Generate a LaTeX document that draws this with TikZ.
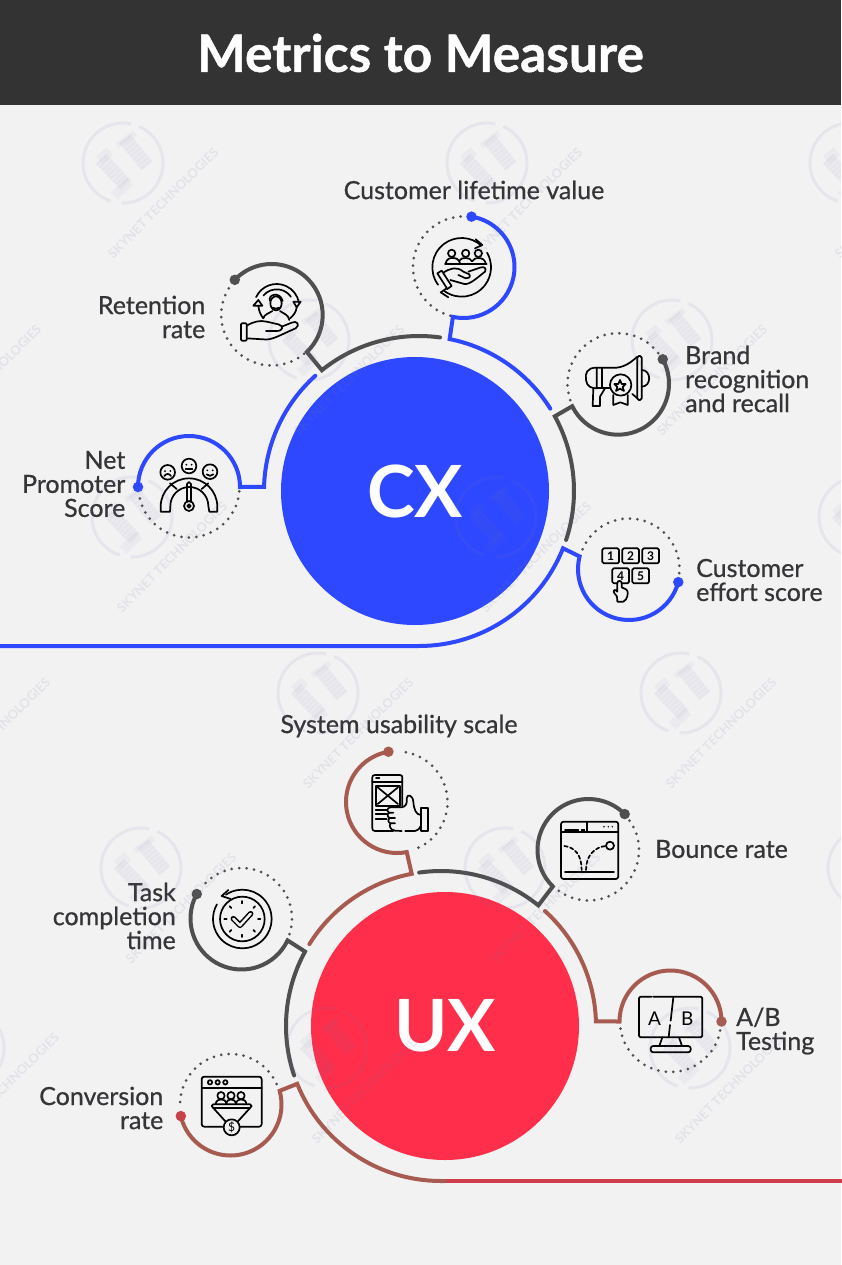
\documentclass[tikz,border=0pt]{standalone}
\usepackage{fontspec}
\setmainfont{Lato}
\newfontfamily\labfont{Lato}[FakeBold=0.7]
\newfontfamily\titlefont{Lato}[BoldFeatures={FakeBold=0.9}]
\definecolor{bgc}{HTML}{F2F2F3}
\definecolor{headc}{HTML}{333333}
\definecolor{bluec}{HTML}{2E48FF}
\definecolor{grayc}{HTML}{4F4F50}
\definecolor{redc}{HTML}{FF2E4B}
\definecolor{brownc}{HTML}{A65A50}
\definecolor{linered}{HTML}{CF3C4C}
\definecolor{textc}{HTML}{353538}
\definecolor{wmc}{HTML}{7878AA}
\tikzset{
  x=1pt,y=-1pt,
  ringline/.style={line width=4pt,line cap=round,line join=miter},
  dotline/.style={draw=grayc,line width=3pt,line cap=round,dash pattern=on 0pt off 7.5pt},
  enddot/.style={circle,inner sep=0pt,minimum size=10.5pt},
  hub/.style={circle,inner sep=0pt,minimum size=268pt,text=white,font=\fontsize{72}{72}\selectfont\bfseries},
  lab/.style={text=textc,font=\fontsize{25}{24}\selectfont\labfont,inner sep=0pt,align=#1},
  lab/.default=center,
  icon/.style={draw=black,line width=1.7pt,line cap=round,line join=round},
  iconscope/.style={x=0.33333pt,y=-0.33333pt},
  wmline/.style={draw=wmc,draw opacity=0.1},
  wmsoft/.style={draw=wmc,draw opacity=0.05},
}
\tikzset{wmark/.pic={
  \draw[wmline,line width=3pt] (-66:40) arc[start angle=-66,end angle=92,radius=40];
  \draw[wmline,line width=3pt] (108:40) arc[start angle=108,end angle=282,radius=40];
  \draw[wmsoft,line width=6pt] (-6,-17) -- (12,-30);
  \draw[wmsoft,line width=14pt] (2,-24) -- (24,3);
  \draw[wmsoft,line width=10pt] (-24,-3) -- (-13,-12);
  \draw[wmsoft,line width=14pt] (-22,-4) -- (3,22);
  \draw[wmsoft,line width=10pt] (-9,33) -- (7,18);
  \draw[wmsoft,line width=14pt,dash pattern=on 2pt off 2pt] (2,-24) -- (24,3);
  \draw[wmsoft,line width=14pt,dash pattern=on 2pt off 2pt] (-22,-4) -- (3,22);
  \node[rotate=45,text=wmc,text opacity=0.13,font=\fontsize{12.8}{13}\selectfont\bfseries,inner sep=0pt] at (40,40) {SKYNET TECHNOLOGIES};
}}
\begin{document}
\begin{tikzpicture}
\useasboundingbox (0,0) rectangle (841,1265);
\fill[bgc] (0,0) rectangle (841,1265);
\fill[headc] (0,0) rectangle (841,105);
\node[text=white,font=\fontsize{51.5}{52}\selectfont\titlefont\bfseries,inner sep=0pt] (title) at (420.5,53) {Metrics to Measure};

% ---------- hubs and ring centres
\node[hub,fill=bluec] (cx) at (415,491) {CX};
\node[hub,fill=redc] (ux) at (445,1026) {UX};
\coordinate (rc) at (419,491);
\coordinate (ru) at (441,1026);
\coordinate (m1) at (189,487);
\coordinate (m2) at (271.7,315);
\coordinate (m3) at (463.5,267);
\coordinate (m4) at (618,383.7);
\coordinate (m5) at (629,569);
\coordinate (n1) at (397,802);
\coordinate (n2) at (588.5,850);
\coordinate (n3) at (241.5,918.5);
\coordinate (n4) at (670.5,1021.5);
\coordinate (n5) at (230.5,1104.5);
\coordinate (lineL) at (0,646);
\coordinate (lineR) at (841,1181);

% ---------- dotted halves
\draw[dotline] ([shift={(5:50.5)}]m1) arc[start angle=5,end angle=172,radius=50.5];
\draw[dotline] ([shift={(50:50.5)}]m2) arc[start angle=50,end angle=215,radius=50.5];
\draw[dotline] ([shift={(105:50.5)}]m3) arc[start angle=105,end angle=272,radius=50.5];
\draw[dotline] ([shift={(161:50.5)}]m4) arc[start angle=161,end angle=325,radius=50.5];
\draw[dotline] ([shift={(203:50.5)}]m5) arc[start angle=203,end angle=366,radius=50.5];
\draw[dotline] ([shift={(-80:50.5)}]n1) arc[start angle=-80,end angle=71,radius=50.5];
\draw[dotline] ([shift={(126:50.5)}]n2) arc[start angle=126,end angle=-38,radius=50.5];
\draw[dotline] ([shift={(18:50.5)}]n3) arc[start angle=18,end angle=-143,radius=50.5];
\draw[dotline] ([shift={(172:50.5)}]n4) arc[start angle=172,end angle=8,radius=50.5];
\draw[dotline] ([shift={(-24:50.5)}]n5) arc[start angle=-24,end angle=-184,radius=50.5];

% ---------- CX ring and metric arcs
\draw[ringline,draw=bluec] (m1) ++(180:51) coordinate (d1) arc[start angle=180,end angle=360,radius=51]
   -- ([shift={(181.5:155)}]rc) arc[start angle=181.5,end angle=228,radius=155];
\node[enddot,fill=bluec] at (d1) {};
\draw[ringline,draw=grayc] ([shift={(277.8:155)}]rc) arc[start angle=277.8,end angle=231.2,radius=155]
   -- ([shift={(46.4:51)}]m2) arc[start angle=46.4,end angle=-136.4,radius=51] coordinate (d2);
\node[enddot,fill=grayc] at (d2) {};
\draw[ringline,draw=bluec] ([shift={(-32.1:155)}]rc) arc[start angle=-32.1,end angle=-78.6,radius=155]
   -- ([shift={(102:51)}]m3) arc[start angle=102,end angle=-81,radius=51] coordinate (d3);
\node[enddot,fill=bluec] at (d3) {};
\draw[ringline,draw=grayc] ([shift={(18.4:155)}]rc) arc[start angle=18.4,end angle=-28.8,radius=155]
   -- ([shift={(153.8:51)}]m4) arc[start angle=153.8,end angle=-28.6,radius=51] coordinate (d4);
\node[enddot,fill=grayc] at (d4) {};
\draw[ringline,draw=bluec] (lineL) -- (419,646) arc[start angle=90,end angle=21.7,radius=155]
   -- ([shift={(194.3:51)}]m5) arc[start angle=194.3,end angle=14.9,radius=51] coordinate (d5);
\node[enddot,fill=bluec] at (d5) {};

% ---------- UX ring and metric arcs
\draw[ringline,draw=brownc] ([shift={(211.9:155)}]ru) arc[start angle=211.9,end angle=259.1,radius=155]
   -- ([shift={(79:51)}]n1) arc[start angle=79,end angle=260.3,radius=51] coordinate (e1);
\node[enddot,fill=brownc] at (e1) {};
\draw[ringline,draw=grayc] ([shift={(-98.1:155)}]ru) arc[start angle=-98.1,end angle=-51.1,radius=155]
   -- ([shift={(134.4:51)}]n2) arc[start angle=134.4,end angle=315.2,radius=51] coordinate (e2);
\node[enddot,fill=grayc] at (e2) {};
\draw[ringline,draw=grayc] ([shift={(161.4:155)}]ru) arc[start angle=161.4,end angle=208.7,radius=155]
   -- ([shift={(25.4:51)}]n3) arc[start angle=25.4,end angle=208.7,radius=51] coordinate (e3);
\node[enddot,fill=grayc] at (e3) {};
\draw[ringline,draw=brownc] ([shift={(-47.9:155)}]ru) arc[start angle=-47.9,end angle=-1.7,radius=155]
   -- ([shift={(180:51)}]n4) arc[start angle=180,end angle=360,radius=51] coordinate (e4);
\node[enddot,fill=brownc] at (e4) {};
\draw[ringline,draw=linered] (lineR) -- (445,1181);
\draw[ringline,draw=brownc] (445,1181) -- (441,1181) arc[start angle=90,end angle=158.1,radius=155]
   -- ([shift={(-15.5:51)}]n5) arc[start angle=-15.5,end angle=166.9,radius=51] coordinate (e5);
\node[enddot,fill=linered!85!brownc] at (e5) {};

% ---------- labels
\node[lab] (t1) at (474,190) {Customer lifetime value};
\node[lab=right,anchor=east] (t2) at (205.5,317) {Retention\\rate};
\node[lab=right,anchor=east] (t3) at (125.5,484) {Net\\Promoter\\Score};
\node[lab=left,anchor=west] (t4) at (685,379) {Brand\\recognition\\and recall};
\node[lab=left,anchor=west] (t5) at (696,580) {Customer\\effort score};
\node[lab] (t6) at (399,726) {System usability scale};
\node[lab=left,anchor=west] (t7) at (655,849) {Bounce rate};
\node[lab=right,anchor=east] (t8) at (176,916) {Task\\completion\\time};
\node[lab=left,anchor=west] (t9) at (736,1031) {A/B\\Testing};
\node[lab=right,anchor=east] (t10) at (163.5,1108) {Conversion\\rate};

% ---------- icon: retention
\begin{scope}[shift={(230,275)},iconscope]
  \draw[icon,rounded corners=1pt] (33,145) rectangle (50,197);
  \draw[icon] (50,152) .. controls (70,140) and (90,135) .. (110,140) -- (145,148) .. controls (162,152) and (160,168) .. (140,168) -- (108,168);
  \draw[icon] (50,190) -- (100,193) .. controls (125,197) and (150,180) .. (197,160) .. controls (212,150) and (200,135) .. (185,143) -- (155,155);
  \draw[icon] (138,85) ellipse[x radius=17,y radius=21];
  \draw[icon] (120,78) .. controls (112,58) and (150,48) .. (158,78);
  \draw[icon] (128,98) .. controls (133,102) and (142,102) .. (148,98);
  \draw[icon] (100,130) .. controls (103,118) and (115,116) .. (127,108);
  \draw[icon] (150,108) .. controls (160,116) and (175,118) .. (178,135);
  \draw[icon] ([shift={(205:68)}]140,95) arc[start angle=205,end angle=350,radius=68];
  \draw[icon] ([shift={(220:52)}]140,95) arc[start angle=220,end angle=325,radius=52];
  \draw[icon] (70,92) -- (85,75) -- (97,92) -- cycle;
  \draw[icon] (85,92) .. controls (87,110) and (92,120) .. (100,130);
  \draw[icon] (190,80) -- (212,80) -- (200,97) -- cycle;
  \draw[icon] (200,97) .. controls (198,112) and (190,122) .. (180,130);
\end{scope}

% ---------- icon: lifetime value
\begin{scope}[shift={(425,230)},iconscope]
  \draw[icon] ([shift={(143.6:88)}]110,112) arc[start angle=143.6,end angle=312,radius=88];
  \draw[icon] (152,28) -- (172,45) -- (150,55);
  \draw[icon] ([shift={(127:88)}]110,112) arc[start angle=127,end angle=-30,radius=88];
  \draw[icon] (65,175) -- (47,187) -- (70,202);
  \draw[icon] (80,70) circle[radius=11];
  \draw[icon] (122,70) circle[radius=11];
  \draw[icon] (160,70) circle[radius=11];
  \draw[icon] (60,102) -- (185,102);
  \draw[icon] (62,100) .. controls (64,88) and (75,83) .. (82,84) .. controls (95,83) and (103,90) .. (105,100);
  \draw[icon] (103,92) .. controls (106,86) and (115,83) .. (122,84) .. controls (131,83) and (138,88) .. (141,94);
  \draw[icon] (141,94) .. controls (146,86) and (155,83) .. (160,84) .. controls (172,84) and (180,90) .. (182,100);
  \draw[icon] (37,130) -- (50,122) -- (80,168) -- (67,177) -- cycle;
  \draw[icon] (55,128) .. controls (75,115) and (95,108) .. (115,125) -- (133,133) .. controls (138,142) and (130,146) .. (122,145) -- (100,135);
  \draw[icon] (76,150) -- (118,162) .. controls (135,165) and (160,140) .. (180,125) .. controls (185,115) and (178,108) .. (165,113) -- (130,125);
\end{scope}

% ---------- icon: megaphone
\begin{scope}[shift={(400,170)},iconscope]
  \draw[icon] (590,593) .. controls (560,593) and (555,610) .. (558,630) .. controls (560,650) and (575,655) .. (590,655) -- cycle;
  \draw[icon] (605,593) -- (605,655) -- (590,655);
  \draw[icon] (590,593) -- (650,593) .. controls (680,590) and (700,570) .. (712,560);
  \draw[icon] (605,655) -- (628,655);
  \draw[icon] (697,672) -- (712,685);
  \draw[icon,rounded corners=1.5pt] (712,558) rectangle (725,690);
  \draw[icon] (725,600) .. controls (755,600) and (755,650) .. (725,650);
  \draw[icon] (580,655) -- (578,708) -- (600,708) -- (600,680) -- (615,655);
  \draw[icon] (662,645) circle[radius=32];
  \draw[icon] (660,630) -- (665,642) -- (677,642) -- (668,651) -- (672,663) -- (660,656) -- (648,663) -- (652,651) -- (643,642) -- (655,642) -- cycle;
  \draw[icon] (640,675) -- (640,705) -- (661,697) -- (683,705) -- (683,675);
\end{scope}

% ---------- icon: net promoter
\begin{scope}[shift={(0,420)},iconscope]
  \draw[icon] (503,157) circle[radius=22];
  \draw[icon] (567,138) circle[radius=22];
  \draw[icon] (630,155) circle[radius=22];
  \foreach \fx/\fy in {503/157,567/138,630/155}{
    \fill[black] (\fx-8,\fy-4) circle[radius=3] (\fx+8,\fy-4) circle[radius=3];
  }
  \draw[icon] (493,168) .. controls (498,160) and (508,160) .. (513,168);
  \draw[icon] (557,148) -- (577,148);
  \draw[icon] (620,163) .. controls (625,169) and (635,169) .. (640,163);
  \draw[icon] (482,275) -- (482,260) arc[start angle=180,end angle=360,radius=85] -- (652,275) -- (628,275) -- (625,258) arc[start angle=360,end angle=180,radius=57] -- (510,275) -- cycle;
  \draw[icon] (510,190) -- (530,207);
  \draw[icon] (625,190) -- (605,207);
  \draw[icon] (561,245) -- (561,192) -- (567,186) -- (573,192) -- (573,245);
  \draw[icon] (567,258) circle[radius=15];
  \draw[icon] (567,258) circle[radius=5];
\end{scope}

% ---------- icon: keypad
\begin{scope}[shift={(540,500)},iconscope]
  \foreach \bx/\by/\lb in {187/145/1,247/145/2,307/145/3,217/205/4,277/205/5}{
    \draw[icon,rounded corners=1.5pt] (\bx,\by) rectangle (\bx+50,\by+45);
    \node[font=\fontsize{12}{12}\selectfont\bfseries,text=black,inner sep=0pt] at (\bx+25,\by+23) {\lb};
  }
  \draw[icon,fill=bgc] (231,290) -- (222,278) .. controls (218,268) and (228,268) .. (232,275) -- (232,250) .. controls (232,240) and (245,240) .. (245,250) -- (245,262) -- (258,268) .. controls (265,272) and (265,285) .. (258,298) -- (250,305) -- (232,305) -- cycle;
\end{scope}

% ---------- icon: usability
\begin{scope}[shift={(170,700)},iconscope]
  \draw[icon] (670,393) -- (615,393) .. controls (609,393) and (607,390) .. (607,385) -- (607,232) .. controls (607,227) and (610,225) .. (615,225) -- (690,225) .. controls (695,225) and (697,228) .. (697,232) -- (697,318);
  \draw[icon] (607,245) -- (697,245);
  \draw[icon] (618,235) -- (628,235);
  \draw[icon] (617,257) rectangle (690,317);
  \draw[icon] (623,262) -- (684,312);
  \draw[icon] (623,312) -- (684,262);
  \draw[icon] (617,330) -- (650,330) (617,343) -- (650,343) (617,356) -- (650,356);
  \draw[icon] (752,325) rectangle (775,393);
  \draw[icon] (752,345) .. controls (738,343) and (732,330) .. (730,305) .. controls (728,285) and (712,280) .. (710,295) .. controls (712,310) and (708,320) .. (695,322) -- (660,322);
  \draw[icon] (660,322) .. controls (650,325) and (650,335) .. (658,338) -- (670,338);
  \draw[icon] (658,338) .. controls (650,342) and (652,352) .. (660,354) -- (675,354);
  \draw[icon] (660,354) .. controls (652,358) and (654,368) .. (662,370) -- (675,370);
  \draw[icon] (662,370) .. controls (656,376) and (660,390) .. (675,392) -- (695,393);
  \draw[icon] (706,393) -- (735,393) .. controls (745,390) and (750,385) .. (752,378);
\end{scope}

% ---------- icon: task time
\begin{scope}[shift={(200,880)},iconscope]
  \draw[icon] (127,117) circle[radius=67];
  \draw[icon] ([shift={(236:88)}]127,117) arc[start angle=236,end angle=570,radius=88];
  \draw[icon] (85,30) -- (65,48) -- (92,57);
  \foreach \a in {0,45,...,315}{
    \draw[icon] ([shift={(\a:47)}]127,117) -- ([shift={(\a:54)}]127,117);
  }
  \draw[draw=black,line width=5.5pt,line cap=round,line join=round] (100,116) -- (120,136) -- (152,101);
  \draw[draw=bgc,line width=2.5pt,line cap=round,line join=round] (100,116) -- (120,136) -- (152,101);
\end{scope}

% ---------- icon: bounce
\begin{scope}[shift={(500,780)},iconscope]
  \draw[icon,rounded corners=2.5pt] (183,125) rectangle (355,297);
  \draw[icon] (262,127) -- (262,157) -- (355,157);
  \draw[icon] (183,157) -- (262,157);
  \draw[icon] (195,150) -- (235,150);
  \fill[black] (244,146) rectangle (254,155);
  \fill[black] (312,140) circle[radius=2.5] (325,140) circle[radius=2.5] (337,140) circle[radius=2.5];
  \draw[icon] (195,275) -- (342,275);
  \draw[icon,dash pattern=on 3.5pt off 2.5pt] (193,198) .. controls (225,202) and (245,225) .. (245,270);
  \draw[icon,dash pattern=on 3.5pt off 2.5pt] (258,270) .. controls (258,225) and (285,202) .. (316,198);
  \draw[icon] (330,197) circle[radius=12];
\end{scope}

% ---------- icon: A/B
\begin{scope}[shift={(500,780)},iconscope]
  \draw[icon,rounded corners=1.5pt] (455,650) -- (417,650) -- (417,772) -- (607,772) -- (607,650) -- (460,650);
  \draw[icon] (520,652) -- (512,722);
  \draw[icon] (510,735) -- (506,772);
  \node[font=\fontsize{19}{19}\selectfont,text=black,inner sep=0pt] at (464,715) {A};
  \node[font=\fontsize{19}{19}\selectfont,text=black,inner sep=0pt] at (562,715) {B};
  \draw[icon] (487,772) -- (478,798);
  \draw[icon] (537,772) -- (546,798);
  \draw[icon,rounded corners=2.5pt] (452,817) -- (452,798) -- (572,798) -- (572,817) -- cycle;
\end{scope}

% ---------- icon: funnel
\begin{scope}[shift={(150,1030)},iconscope]
  \draw[icon,rounded corners=2.5pt] (155,140) rectangle (335,290);
  \draw[icon] (155,173) -- (335,173);
  \draw[icon] (180,157) circle[radius=6.5] (203,157) circle[radius=6.5] (226,157) circle[radius=6.5];
  \draw[icon] (213,197) circle[radius=11] (243,197) circle[radius=11] (273,197) circle[radius=11];
  \draw[icon] (197,222) .. controls (198,212) and (206,208) .. (213,208) .. controls (222,208) and (228,212) .. (229,222);
  \draw[icon] (229,222) .. controls (230,212) and (236,208) .. (243,208) .. controls (250,208) and (256,212) .. (258,222);
  \draw[icon] (258,222) .. controls (259,212) and (266,208) .. (273,208) .. controls (282,208) and (288,212) .. (289,222);
  \draw[icon] (190,223) -- (300,223) -- (305,228) -- (300,234) -- (190,234) -- (185,228) -- cycle;
  \draw[icon] (190,234) -- (228,276);
  \draw[icon] (300,234) -- (262,276);
  \draw[icon,fill=bgc] (245,292) circle[radius=24];
  \node[font=\fontsize{12}{12}\selectfont,text=black,inner sep=0pt] at (245,292) {\$};
\end{scope}

% ---------- watermark
\begin{scope}
  \clip (0,105) rectangle (841,1265);
  \foreach \wx/\wy in {123/163,487/163,850/163,
     -54/340,309/340,672/340,
     132/517,496/517,859/517,
     -45/693,318/693,681/693,
     141/868,505/868,868/868,
     -36/1048,327/1048,690/1048}{
    \pic at (\wx,\wy) {wmark};
  }
\end{scope}
\end{tikzpicture}
\end{document}
